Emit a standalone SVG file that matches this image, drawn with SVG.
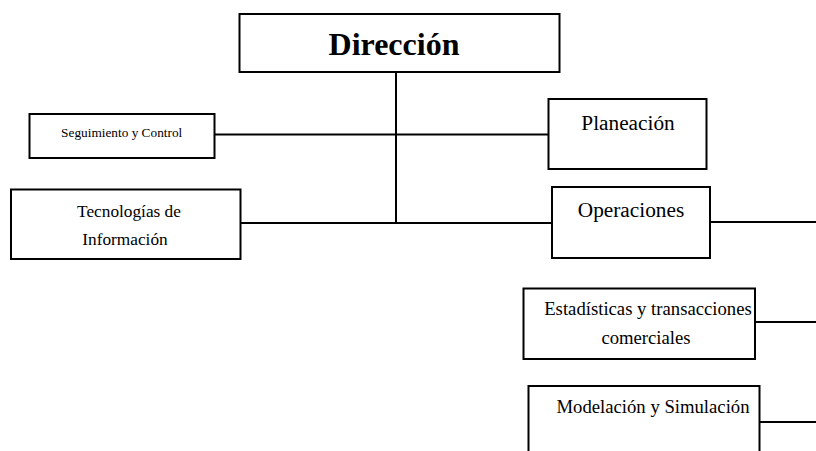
<svg xmlns="http://www.w3.org/2000/svg" width="816" height="451" viewBox="0 0 816 451">
  <style>
    .box { fill: #ffffff; stroke: #000000; stroke-width: 2; }
    .link { fill: none; stroke: #000000; stroke-width: 2; }
    text { font-family: "Liberation Serif", "Times New Roman", serif; fill: #000000; text-anchor: middle; }
    .title { font-size: 32px; font-weight: bold; }
    .big { font-size: 21.3px; }
    .mid { font-size: 18.7px; }
    .sm { font-size: 17.3px; }
    .xs { font-size: 13.3px; }
  </style>
  <rect width="816" height="451" fill="#ffffff"/>

  <!-- connectors -->
  <g id="connectors">
    <line class="link" x1="396" y1="72" x2="396" y2="223"/>
    <line class="link" x1="214" y1="134.5" x2="548" y2="134.5"/>
    <line class="link" x1="239" y1="223" x2="555" y2="223"/>
    <line class="link" x1="710" y1="222" x2="816" y2="222"/>
    <line class="link" x1="755" y1="322" x2="816" y2="322"/>
    <line class="link" x1="759" y1="422" x2="816" y2="422"/>
  </g>

  <g id="direccion">
    <rect class="box" x="239.5" y="14" width="320" height="58"/>
    <text class="title" x="394" y="55">Dirección</text>
  </g>

  <g id="seguimiento">
    <rect class="box" x="29.5" y="114" width="185" height="44"/>
    <text class="xs" x="121.7" y="136.7">Seguimiento y Control</text>
  </g>

  <g id="tecnologias">
    <rect class="box" x="11" y="189.5" width="229.5" height="69.5"/>
    <text class="sm" x="129" y="216.7">Tecnologías de</text>
    <text class="sm" x="125" y="245">Información</text>
  </g>

  <g id="planeacion">
    <rect class="box" x="548.5" y="99" width="158" height="70"/>
    <text class="big" x="628" y="130">Planeación</text>
  </g>

  <g id="operaciones">
    <rect class="box" x="552" y="187" width="158" height="71"/>
    <text class="big" x="631" y="216.7">Operaciones</text>
  </g>

  <g id="estadisticas">
    <rect class="box" x="523.5" y="288.5" width="231.5" height="70.5"/>
    <text class="mid" x="648" y="315">Estadísticas y transacciones</text>
    <text class="mid" x="646" y="343.5">comerciales</text>
  </g>

  <g id="modelacion">
    <rect class="box" x="528.5" y="386" width="231" height="80"/>
    <text class="mid" x="653" y="413.3">Modelación y Simulación</text>
  </g>
</svg>
